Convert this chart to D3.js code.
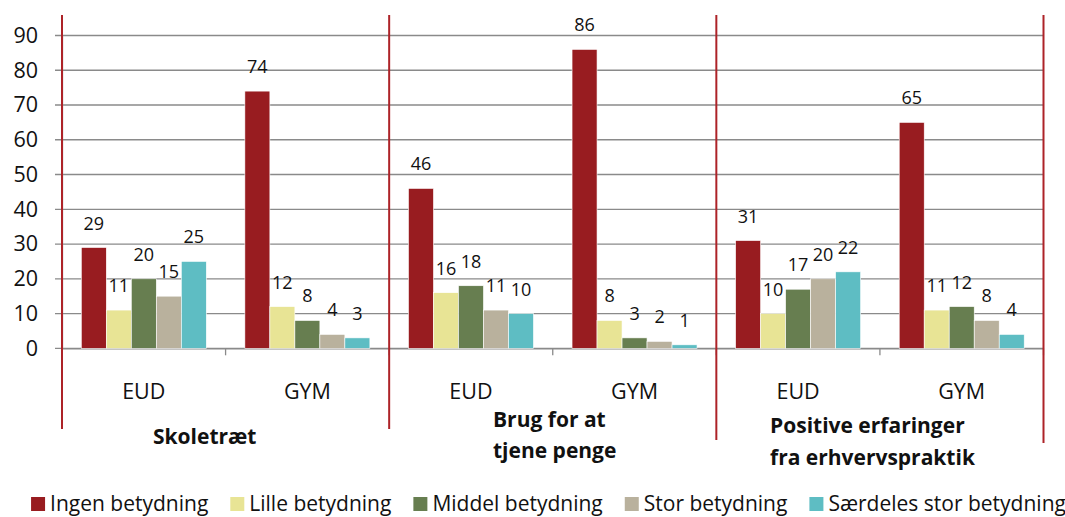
<html>
<head>
<meta charset="utf-8">
<title>Betydning - EUD og GYM</title>
<style>
  body { margin: 0; background: #fff; }
  text { font-family: "Open Sans", sans-serif; fill: #111; }
</style>
</head>
<body>
<svg id="chart" width="1065" height="517"></svg>
<script src="https://d3js.org/d3.v7.min.js"></script>
<script>
// data
const groups = ["Skoletræt", "Brug for at tjene penge", "Positive erfaringer fra erhvervspraktik"]
const groupLines = [["Skoletræt"], ["Brug for at", "tjene penge"], ["Positive erfaringer", "fra erhvervspraktik"]]
const schools = ["EUD", "GYM"]
const series = ["Ingen betydning", "Lille betydning", "Middel betydning", "Stor betydning", "Særdeles stor betydning"]
// one value per category: Skoletræt EUD, GYM, Brug EUD, GYM, Positive EUD, GYM
const ingen     = [29, 74, 46, 86, 31, 65]
const lille     = [11, 12, 16, 8, 10, 11]
const middel    = [20, 8, 18, 3, 17, 12]
const stor      = [15, 4, 11, 2, 20, 8]
const saerdeles = [25, 3, 10, 1, 22, 4]
const yTicks = [0, 10, 20, 30, 40, 50, 60, 70, 80, 90]

const colors = ["#981c20", "#e8e495", "#677e50", "#b9b19d", "#5ebdc3"]

const svg = d3.select("#chart")
const plotLeft = 62, plotRight = 1043.5, plotTop = 35.5, plotBottom = 348.3

// categories = group x school
const cats = []
groups.forEach((g, gi) => schools.forEach(s => cats.push({group: g, gi: gi, school: s})))
const valuesBySeries = [ingen, lille, middel, stor, saerdeles]

const x0 = d3.scaleBand().domain(d3.range(cats.length)).range([plotLeft, plotRight])
const x1 = d3.scaleBand().domain(series).range([0, 125])
const y = d3.scaleLinear().domain([0, 90]).range([plotBottom, plotTop])
const gx = d3.scaleBand().domain(groups).range([plotLeft, plotRight])

// gridlines
svg.append("g").selectAll("line").data(yTicks).join("line")
  .attr("x1", plotLeft - 7).attr("x2", plotRight)
  .attr("y1", d => y(d)).attr("y2", d => y(d))
  .attr("stroke", "#8a8a8a").attr("stroke-width", 1.3)

// y axis
const yAxis = svg.append("g").attr("transform", `translate(${plotLeft},0)`)
  .call(d3.axisLeft(y).tickValues(yTicks).tickSize(0).tickPadding(24))
yAxis.select(".domain").attr("stroke", "#8a8a8a").attr("stroke-width", 1.3)
yAxis.selectAll("text").style("font-size", "21.5px").attr("fill", "#111")

// x axis line + ticks
const xAxis = svg.append("g").attr("transform", `translate(0,${plotBottom})`)
  .call(d3.axisBottom(x0).tickSize(0).tickFormat(""))
xAxis.select(".domain").attr("stroke", "#8a8a8a").attr("stroke-width", 1.3)
svg.append("g").selectAll("line").data(d3.range(cats.length + 1)).join("line")
  .attr("x1", i => plotLeft + i * x0.step()).attr("x2", i => plotLeft + i * x0.step())
  .attr("y1", plotBottom).attr("y2", plotBottom + 7)
  .attr("stroke", "#8a8a8a").attr("stroke-width", 1.3)

// bars
const pad = (x0.bandwidth() - 125) / 2
const barData = []
cats.forEach((c, ci) => series.forEach((s, si) => barData.push({ci: ci, s: s, si: si, v: valuesBySeries[si][ci]})))

svg.append("g").selectAll("rect").data(barData).join("rect")
  .attr("x", d => x0(d.ci) + pad + x1(d.s))
  .attr("width", x1.bandwidth())
  .attr("y", d => y(d.v))
  .attr("height", d => plotBottom - y(d.v))
  .attr("fill", d => colors[d.si])
  .attr("stroke", "#fff").attr("stroke-width", 0.6)

// value labels
svg.append("g").selectAll("text").data(barData).join("text")
  .attr("x", d => x0(d.ci) + pad + x1(d.s) + x1.bandwidth() / 2)
  .attr("y", d => y(d.v) - 18)
  .attr("text-anchor", "middle")
  .style("font-size", "18px")
  .text(d => d.v)

// category labels EUD / GYM
svg.append("g").selectAll("text").data(cats).join("text")
  .attr("x", (d, i) => x0(i) + x0.bandwidth() / 2)
  .attr("y", 399)
  .attr("text-anchor", "middle")
  .style("font-size", "21.5px")
  .text(d => d.school)

// red separators
const sepBottom = [429, 429, 440, 443]
svg.append("g").selectAll("line").data(d3.range(groups.length + 1)).join("line")
  .attr("x1", i => plotLeft + i * gx.step()).attr("x2", i => plotLeft + i * gx.step())
  .attr("y1", 15).attr("y2", i => sepBottom[i])
  .attr("stroke", "#ad2328").attr("stroke-width", 2)

// group labels
const groupLabelX = [153, 493, 770]
const groupLabelY = [[444], [427, 458], [433, 465]]
groupLines.forEach((lines, gi) => {
  lines.forEach((t, li) => {
    svg.append("text")
      .attr("x", groupLabelX[gi]).attr("y", groupLabelY[gi][li])
      .style("font-size", "21px").style("font-weight", "bold")
      .text(t)
  })
})

// legend
const legend = svg.append("g")
let lx = 0
series.forEach((s, i) => {
  const item = legend.append("g").attr("transform", `translate(${lx},0)`)
  item.append("rect").attr("x", 0).attr("y", 497).attr("width", 14).attr("height", 14).attr("fill", colors[i])
  const t = item.append("text").attr("x", 19).attr("y", 511).style("font-size", "21px").text(s)
  lx += 19 + t.node().getComputedTextLength() + 22
})
const lw = lx - 22
legend.attr("transform", `translate(${(34 + 1063) / 2 - lw / 2},0)`)
</script>
</body>
</html>
